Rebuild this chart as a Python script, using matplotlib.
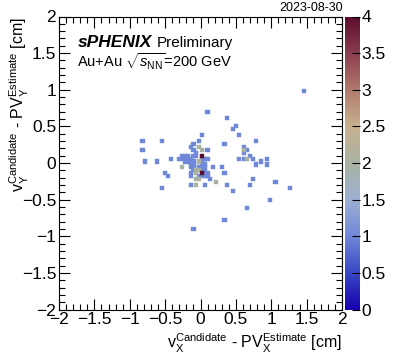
import numpy as np
import matplotlib
matplotlib.use("Agg")
import matplotlib.pyplot as plt
from matplotlib.colors import LinearSegmentedColormap
from matplotlib.ticker import MultipleLocator

plt.rcParams['font.family'] = ['Liberation Sans', 'DejaVu Sans']
plt.rcParams['mathtext.fontset'] = 'custom'
plt.rcParams['mathtext.rm'] = 'Liberation Sans'
plt.rcParams['mathtext.it'] = 'Liberation Sans:italic'
plt.rcParams['mathtext.bf'] = 'Liberation Sans:bold'

# vertex candidate offsets (bin centres), one entry per candidate
single_x = [1.46, 0.10, 0.38, 0.50, 0.46, 0.54, 0.02, -0.82, -0.54, -0.02, 0.78, 0.34,
            -0.10, -0.14, -0.82, -0.10, 0.10, 0.62, 0.66, -0.06, -0.18, 0.54, 0.62, 0.70,
            0.74, 0.62, 0.94, 0.86, 0.94, 0.78, -0.78, -0.62, -0.42, -0.50, -0.46, -0.54,
            0.30, 0.18, 0.34, 0.38, 0.46, 0.74, 0.70, 1.06, 1.26, 0.98, 0.66, 0.34,
            -0.10, -0.14, 0.06, 0.14, 0.10, 0.10,
            -0.26, -0.22, -0.10, -0.06,
            -0.30, -0.26, -0.22, -0.18, -0.14, 0.02, 0.06, 0.10,
            -0.22, -0.18, -0.14, -0.10, 0.02,
            -0.14, -0.10, 0.02, 0.06,
            -0.14, -0.10, -0.02, 0.02, 0.06,
            -0.10, 0.02, 0.06,
            -0.14, 0.06,
            -0.14, -0.02, 0.02, 0.06]
single_y = [0.98, 0.70, 0.62, 0.50, 0.46, 0.38, 0.38, 0.30, 0.30, 0.30, 0.30, 0.26,
            0.26, 0.22, 0.18, 0.18, 0.18, 0.22, 0.18, 0.14, 0.10, 0.06, 0.14, 0.10,
            0.06, 0.06, 0.06, 0.02, -0.02, -0.02, 0.02, 0.02, 0.06, -0.14, -0.18, -0.34,
            -0.06, -0.06, -0.14, -0.30, -0.38, -0.22, -0.30, -0.26, -0.34, -0.50, -0.62, -0.78,
            -0.90, -0.30, -0.30, -0.22, -0.18, -0.14,
            0.10, 0.10, 0.10, 0.10,
            0.06, 0.06, 0.06, 0.06, 0.06, 0.06, 0.06, 0.06,
            0.02, 0.02, 0.02, 0.02, 0.02,
            -0.02, -0.02, -0.02, -0.02,
            -0.06, -0.06, -0.06, -0.06, -0.06,
            -0.10, -0.10, -0.10,
            -0.14, -0.14,
            -0.18, -0.18, -0.18, -0.18]
double_x = [-0.02, 0.02, 0.62, 0.66, 0.22, -0.06, -0.02, -0.26, -0.06, -0.02, -0.06, -0.06, -0.02]
double_y = [0.22, 0.18, 0.18, 0.06, -0.26, -0.30, 0.02, -0.06, -0.10, -0.10, -0.14, -0.22, -0.22]
quad_x = [0.02, 0.02]
quad_y = [0.10, -0.14]

xs = np.array(single_x + double_x * 2 + quad_x * 4)
ys = np.array(single_y + double_y * 2 + quad_y * 4)

palette = LinearSegmentedColormap.from_list("thermo", [
    (0.000, '#1800b0'), (0.125, '#3848c4'), (0.250, '#7088d8'),
    (0.375, '#9db0d2'), (0.500, '#a8b2a2'), (0.625, '#c8b08e'),
    (0.750, '#b07a6c'), (0.875, '#8c3d50'), (1.000, '#5a0c2c')])

fig = plt.figure(figsize=(3.93, 3.56), dpi=100)
ax = fig.add_axes([59/393, 1 - 309.5/356, 283/393, 293/356])
cax = fig.add_axes([345/393, 1 - 309.5/356, 15/393, 293/356])

# 100 x 100 bins, draw filled bins as squares
edges = np.linspace(-2, 2, 101)
counts, xe, ye = np.histogram2d(xs, ys, bins=[edges, edges])
cx = 0.5 * (xe[:-1] + xe[1:])
cy = 0.5 * (ye[:-1] + ye[1:])
ix, iy = np.nonzero(counts)
order = np.argsort(counts[ix, iy])
ix, iy = ix[order], iy[order]
sc = ax.scatter(cx[ix], cy[iy], c=counts[ix, iy], cmap=palette, vmin=0, vmax=4,
                marker='s', s=9, linewidths=0.3, edgecolors='face')

cb = fig.colorbar(sc, cax=cax)
cb.outline.set_linewidth(0)
cb.set_ticks([0, 0.5, 1, 1.5, 2, 2.5, 3, 3.5, 4])
cb.set_ticklabels(['0', '0.5', '1', '1.5', '2', '2.5', '3', '3.5', '4'])
cax.tick_params(direction='in', length=6, width=0.8, labelsize=12.5, pad=1)

ax.set_xlim(-2, 2)
ax.set_ylim(-2, 2)
for axis in (ax.xaxis, ax.yaxis):
    axis.set_major_locator(MultipleLocator(0.5))
    axis.set_minor_locator(MultipleLocator(0.1))
ax.set_xticks([-2, -1.5, -1, -0.5, 0, 0.5, 1, 1.5, 2])
ax.set_xticklabels(['\u22122', '\u22121.5', '\u22121', '\u22120.5', '0', '0.5', '1', '1.5', '2'])
ax.set_yticks([-2, -1.5, -1, -0.5, 0, 0.5, 1, 1.5, 2])
ax.set_yticklabels(['\u22122', '\u22121.5', '\u22121', '\u22120.5', '0', '0.5', '1', '1.5', '2'])
ax.tick_params(which='both', direction='in', top=True, right=True, labelsize=12.5, width=0.8)
ax.tick_params(which='major', length=8, pad=2)
ax.tick_params(which='minor', length=4)
for s in ax.spines.values():
    s.set_linewidth(0.8)

ax.set_xlabel(r'v$_{\mathrm{X}}^{\mathrm{Candidate}}$ - PV$_{\mathrm{X}}^{\mathrm{Estimate}}$ [cm]',
              fontsize=11.5, ha='right')
ax.xaxis.set_label_coords(1.0, -0.075)
ax.set_ylabel(r'v$_{\mathrm{Y}}^{\mathrm{Candidate}}$ - PV$_{\mathrm{Y}}^{\mathrm{Estimate}}$ [cm]',
              fontsize=11.5, ha='right')
ax.yaxis.set_label_coords(-0.10, 1.0)

ax.text(0.065, 0.91, 'sPHENIX', transform=ax.transAxes,
        fontsize=12.5, fontweight='bold', style='italic', va='center')
ax.text(0.345, 0.91, 'Preliminary', transform=ax.transAxes, fontsize=11, va='center')
ax.text(0.065, 0.845, r'Au+Au $\sqrt{s_{\mathrm{NN}}}$=200 GeV', transform=ax.transAxes,
        fontsize=10.5, va='center')
fig.text(343/393, 1 - 8/356, '2023-08-30', ha='right', va='center', fontsize=9)

fig.savefig('out.png', dpi=100)
